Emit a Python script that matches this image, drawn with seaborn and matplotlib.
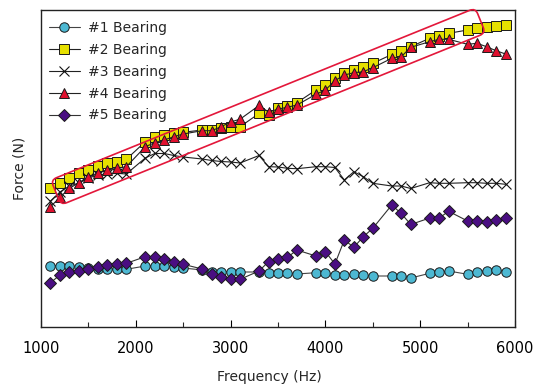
import matplotlib
matplotlib.use("Agg")
import matplotlib.pyplot as plt
import seaborn as sns
from matplotlib.patches import FancyBboxPatch
from matplotlib.transforms import Affine2D, ScaledTranslation
from matplotlib.ticker import MultipleLocator

# ---------------- data ----------------
freq = [1100, 1200, 1300, 1400, 1500, 1600, 1700, 1800, 1900,
        2100, 2200, 2300, 2400, 2500,
        2700, 2800, 2900, 3000, 3100,
        3300, 3400, 3500, 3600, 3700,
        3900, 4000, 4100, 4200, 4300, 4400, 4500,
        4700, 4800, 4900,
        5100, 5200, 5300,
        5500, 5600, 5700, 5800, 5900]

bearing1 = [61.3, 61.3, 61.0, 60.5, 59.5, 58.5, 57.7, 57.7, 57.7,
            61.0, 61.0, 61.0, 60.3, 59.0,
            57.0, 55.3, 55.3, 55.3, 55.0,
            55.0, 54.3, 54.3, 54.3, 53.0,
            54.3, 54.5, 52.0, 52.0, 53.0, 52.0, 51.0,
            51.0, 51.0, 49.0,
            53.7, 54.7, 56.0,
            52.7, 55.3, 56.3, 57.0, 55.3]

bearing2 = [138.7, 143.7, 148.7, 153.7, 157.0, 161.3, 163.7, 165.3, 167.7,
            185.3, 189.7, 192.0, 193.7, 194.7,
            197.0, 196.5, 198.7, 199.5, 200.3,
            213.5, 212.0, 219.0, 221.0, 224.3,
            237.0, 242.0, 249.0, 254.0, 257.0, 260.3, 263.7,
            272.5, 275.5, 280.3,
            288.7, 291.0, 293.7,
            297.0, 298.7, 299.7, 301.0, 302.0]

bearing3 = [126.0, 135.0, 141.0, 144.0, 149.0, 152.0, 153.0, 153.7, 153.0,
            169.0, 173.5, 173.5, 171.5, 170.0,
            168.0, 166.5, 165.5, 165.0, 164.0,
            171.5, 160.3, 160.0, 158.7, 158.3,
            160.3, 160.3, 159.5, 147.0, 155.3, 150.3, 143.7,
            141.0, 141.0, 138.5,
            144.3, 143.7, 143.7,
            144.3, 144.3, 143.7, 143.7, 142.7]

bearing4 = [120.3, 129.7, 138.7, 144.3, 149.7, 154.3, 157.0, 158.7, 160.3,
            180.3, 184.3, 187.0, 190.3, 193.0,
            196.3, 196.3, 200.3, 205.0, 207.8,
            221.5, 215.0, 217.8, 219.8, 222.0,
            232.7, 237.0, 246.3, 252.0, 254.3, 255.3, 259.3,
            268.7, 270.3, 279.7,
            285.3, 287.7, 287.7,
            282.7, 283.7, 280.3, 276.3, 273.0]

bearing5 = [44.3, 52.0, 54.7, 56.3, 57.7, 60.3, 62.0, 63.0, 63.7,
            70.3, 70.3, 68.0, 65.3, 62.7,
            58.0, 52.7, 50.3, 48.0, 47.7,
            56.0, 65.3, 68.0, 69.7, 77.0,
            71.0, 75.3, 63.0, 87.0, 79.7, 90.3, 98.7,
            122.0, 113.5, 102.5,
            109.0, 109.0, 115.7,
            106.0, 105.5, 104.7, 106.5, 108.7]

labels = ["#1 Bearing", "#2 Bearing", "#3 Bearing", "#4 Bearing", "#5 Bearing"]
xticks = [1000, 2000, 3000, 4000, 5000, 6000]

# ---------------- style ----------------
sns.set_style("white")
plt.rcParams["font.family"] = ["DejaVu Sans"]

fig = plt.figure(figsize=(5.4, 3.87), dpi=100)
ax = fig.add_axes([41 / 540, 60 / 387, 474 / 540, 317 / 387])

series = [
    (bearing1, dict(marker="o", ms=6.8, mfc="#4DB8D2", mec="#1a1a1a", mew=0.7, color="#444444")),
    (bearing2, dict(marker="s", ms=6.6, mfc="#E6E000", mec="#1a1a1a", mew=0.7, color="#222222")),
    (bearing3, dict(marker="x", ms=7.8, mfc="none", mec="#111111", mew=0.8, color="#222222")),
    (bearing4, dict(marker="^", ms=7.4, mfc="#E0102E", mec="#1a1a1a", mew=0.7, color="#222222")),
    (bearing5, dict(marker="D", ms=6.0, mfc="#4A0E82", mec="#1a1a1a", mew=0.7, color="#333333")),
]

for (vals, st), lab in zip(series, labels):
    sns.lineplot(x=freq, y=vals, ax=ax, label=lab, linewidth=0.8,
                 marker=st["marker"], markersize=st["ms"],
                 markerfacecolor=st["mfc"], markeredgecolor=st["mec"],
                 markeredgewidth=st["mew"], color=st["color"], errorbar=None)

# red rounded box around series 2 and 4
anchor_f, anchor_v = 1211, 122
box = FancyBboxPatch((0, 0), 458, 27, boxstyle="round,pad=0,rounding_size=6",
                     facecolor="none", edgecolor="#E3173A", linewidth=1.2,
                     transform=Affine2D().rotate_deg(22.05)
                     + ScaledTranslation(anchor_f, anchor_v, ax.transData),
                     clip_on=False, zorder=5)
ax.add_patch(box)

ax.set_xlim(1000, 6000)
ax.set_ylim(0, 317)
ax.set_xticks(xticks)
ax.set_xticklabels([str(t) for t in xticks])
ax.xaxis.set_minor_locator(MultipleLocator(500))
ax.set_yticks([])
ax.tick_params(axis="x", which="major", direction="in", length=5, width=0.8,
               pad=10, labelsize=10.5, colors="black")
ax.tick_params(axis="x", which="minor", direction="in", length=3.5, width=0.8)
ax.tick_params(axis="x", which="both", top=False, bottom=True)

for s in ax.spines.values():
    s.set_color("#222222")
    s.set_linewidth(1.0)

ax.set_xlabel("Frequency (Hz)", fontsize=10)
ax.xaxis.set_label_coords(0.481, -0.135)
ax.set_ylabel("Force (N)", fontsize=10)
ax.yaxis.set_label_coords(-0.03, 0.5)

ax.legend(loc="upper left", bbox_to_anchor=(0.017, 0.966), frameon=False,
          fontsize=10, handlelength=2.2, handletextpad=0.6, labelspacing=0.57,
          borderaxespad=0, borderpad=0)

fig.savefig("out.png", dpi=100)
